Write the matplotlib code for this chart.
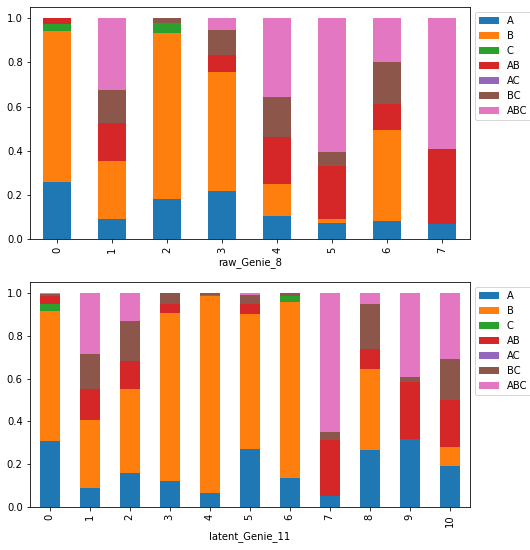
import matplotlib
matplotlib.use('Agg')
import matplotlib.pyplot as plt
import pandas as pd

groups = ['A', 'B', 'C', 'AB', 'AC', 'BC', 'ABC']

# raw_Genie_8 : fraction of each group per cluster (0..7)
raw_A   = [0.258, 0.090, 0.180, 0.220, 0.105, 0.072, 0.083, 0.068]
raw_B   = [0.685, 0.265, 0.752, 0.538, 0.147, 0.018, 0.412, 0.000]
raw_C   = [0.030, 0.000, 0.045, 0.000, 0.000, 0.000, 0.000, 0.000]
raw_AB  = [0.027, 0.170, 0.000, 0.077, 0.212, 0.240, 0.117, 0.342]
raw_AC  = [0.000, 0.000, 0.000, 0.000, 0.000, 0.000, 0.000, 0.000]
raw_BC  = [0.000, 0.150, 0.023, 0.110, 0.181, 0.065, 0.188, 0.000]
raw_ABC = [0.000, 0.325, 0.000, 0.055, 0.355, 0.605, 0.200, 0.590]

# latent_Genie_11 : fraction of each group per cluster (0..10)
lat_A   = [0.310, 0.089, 0.160, 0.123, 0.065, 0.273, 0.136, 0.050, 0.265, 0.318, 0.190]
lat_B   = [0.605, 0.316, 0.390, 0.783, 0.920, 0.630, 0.822, 0.000, 0.380, 0.000, 0.090]
lat_C   = [0.035, 0.000, 0.000, 0.000, 0.005, 0.000, 0.027, 0.000, 0.000, 0.000, 0.000]
lat_AB  = [0.035, 0.145, 0.134, 0.044, 0.000, 0.047, 0.000, 0.265, 0.095, 0.265, 0.220]
lat_AC  = [0.000, 0.000, 0.000, 0.000, 0.000, 0.000, 0.000, 0.000, 0.000, 0.000, 0.000]
lat_BC  = [0.010, 0.165, 0.184, 0.050, 0.010, 0.040, 0.015, 0.035, 0.210, 0.025, 0.190]
lat_ABC = [0.005, 0.285, 0.132, 0.000, 0.000, 0.010, 0.000, 0.650, 0.050, 0.392, 0.310]

raw = pd.DataFrame(dict(zip(groups, [raw_A, raw_B, raw_C, raw_AB, raw_AC, raw_BC, raw_ABC])))
lat = pd.DataFrame(dict(zip(groups, [lat_A, lat_B, lat_C, lat_AB, lat_AC, lat_BC, lat_ABC])))

# 72 dpi so that 1pt == 1px, like the (downscaled) original
fig = plt.figure(figsize=(530 / 72, 550 / 72), dpi=72)
ax1 = fig.add_axes([0.056, 0.565, 0.830, 0.422])
ax2 = fig.add_axes([0.056, 0.078, 0.830, 0.409])

for ax, df, name in [(ax1, raw, 'raw_Genie_8'), (ax2, lat, 'latent_Genie_11')]:
    df.plot(kind='bar', stacked=True, ax=ax, width=0.5)
    ax.set_xlabel(name)
    ax.legend(loc='upper left', bbox_to_anchor=(1.0, 1.0))

fig.savefig('out.png', dpi=72)
